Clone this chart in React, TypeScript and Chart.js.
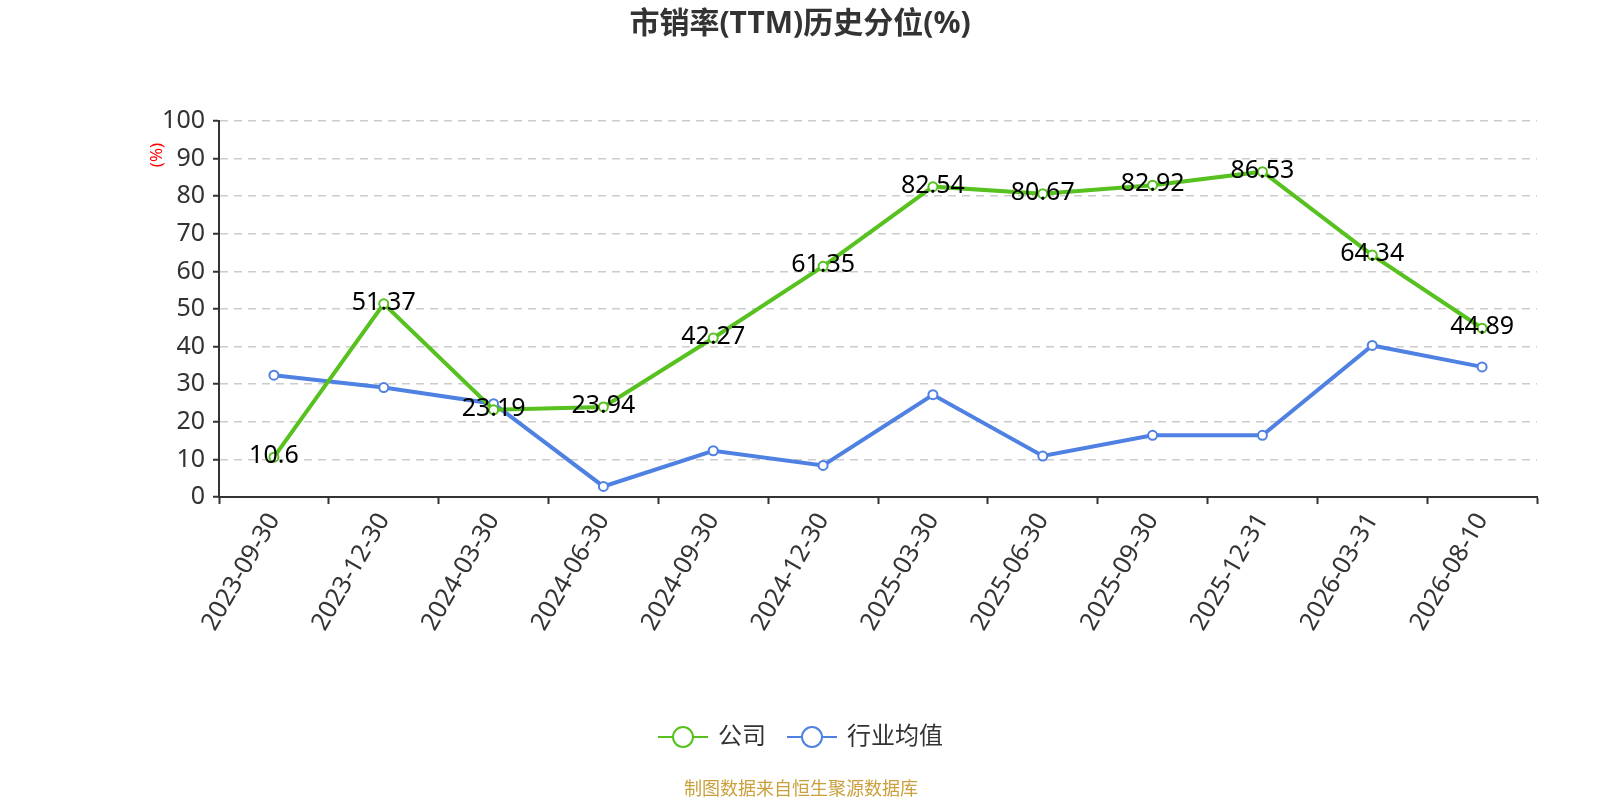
import { useEffect, useRef } from 'react'
import { Chart, registerables } from 'chart.js'

Chart.register(...registerables)

const dates = [
  '2023-09-30', '2023-12-30', '2024-03-30', '2024-06-30', '2024-09-30', '2024-12-30',
  '2025-03-30', '2025-06-30', '2025-09-30', '2025-12-31', '2026-03-31', '2026-08-10',
]
const companyValues = [10.6, 51.37, 23.19, 23.94, 42.27, 61.35, 82.54, 80.67, 82.92, 86.53, 64.34, 44.89]
const industryValues = [32.4, 29.1, 24.8, 2.8, 12.3, 8.4, 27.2, 10.9, 16.4, 16.4, 40.3, 34.6]
const legendNames = ['公司', '行业均值']

const FONT = '"Noto Sans", "Noto Sans CJK SC", sans-serif'
const GREEN = '#56c11f'
const BLUE = '#4f81e3'

// title, unit label, value labels, legend and source note
const decorPlugin = {
  id: 'decor',
  afterDatasetsDraw(chart: Chart) {
    const ctx = chart.ctx
    const meta = chart.getDatasetMeta(0)
    ctx.save()
    ctx.font = `25px ${FONT}`
    ctx.fillStyle = '#000'
    ctx.textAlign = 'center'
    ctx.textBaseline = 'middle'
    meta.data.forEach((pt, i) => {
      ctx.fillText(String(companyValues[i]), pt.x, pt.y - 1)
    })
    ctx.restore()
  },
  afterDraw(chart: Chart) {
    const ctx = chart.ctx
    ctx.save()
    ctx.fillStyle = '#333'
    ctx.font = `bold 30px ${FONT}`
    ctx.textAlign = 'center'
    ctx.textBaseline = 'middle'
    ctx.fillText('市销率(TTM)历史分位(%)', 800, 24)

    // unit
    ctx.save()
    ctx.translate(157, 155)
    ctx.rotate(-Math.PI / 2)
    ctx.fillStyle = '#ff0000'
    ctx.font = `17px ${FONT}`
    ctx.fillText('(%)', 0, 0)
    ctx.restore()

    // legend
    const items = [
      { x: 658, color: GREEN, name: legendNames[0] },
      { x: 787, color: BLUE, name: legendNames[1] },
    ]
    const ly = 737
    items.forEach((it) => {
      ctx.strokeStyle = it.color
      ctx.lineWidth = 2
      ctx.beginPath()
      ctx.moveTo(it.x, ly)
      ctx.lineTo(it.x + 50, ly)
      ctx.stroke()
      ctx.beginPath()
      ctx.arc(it.x + 25, ly, 10, 0, Math.PI * 2)
      ctx.fillStyle = '#fff'
      ctx.fill()
      ctx.stroke()
      ctx.fillStyle = '#333'
      ctx.font = `24px ${FONT}`
      ctx.textAlign = 'left'
      ctx.fillText(it.name, it.x + 60, ly)
    })

    // source note
    ctx.fillStyle = '#c9a03c'
    ctx.font = `18px ${FONT}`
    ctx.textAlign = 'center'
    ctx.fillText('制图数据来自恒生聚源数据库', 801, 790)
    ctx.restore()
  },
}

export default function App() {
  const chartRef = useRef<HTMLCanvasElement>(null)
  const chartInstance = useRef<Chart | null>(null)

  useEffect(() => {
    if (!chartRef.current) return
    if (chartInstance.current) chartInstance.current.destroy()

    chartInstance.current = new Chart(chartRef.current, {
      type: 'line',
      data: {
        labels: dates,
        datasets: [
          {
            label: legendNames[0],
            data: companyValues,
            borderColor: GREEN,
            borderWidth: 4,
            pointRadius: 4.5,
            pointBorderWidth: 2,
            pointBackgroundColor: '#fff',
            pointBorderColor: GREEN,
            tension: 0,
          },
          {
            label: legendNames[1],
            data: industryValues,
            borderColor: BLUE,
            borderWidth: 4,
            pointRadius: 4.5,
            pointBorderWidth: 2,
            pointBackgroundColor: '#fff',
            pointBorderColor: BLUE,
            tension: 0,
          },
        ],
      },
      options: {
        responsive: false,
        animation: false,
        layout: { padding: { left: 0, right: 63, top: 121, bottom: 153 } },
        plugins: {
          legend: { display: false },
          title: { display: false },
          tooltip: { enabled: false },
        },
        scales: {
          x: {
            offset: true,
            grid: {
              offset: true,
              drawOnChartArea: false,
              tickLength: 7,
              tickColor: '#333',
              tickWidth: 2,
            },
            border: { color: '#333', width: 2 },
            ticks: {
              color: '#333',
              font: { size: 25, family: FONT },
              minRotation: 60,
              maxRotation: 60,
              padding: 4,
              autoSkip: false,
            },
            afterFit: (scale: any) => {
              scale.height = 150
            },
          },
          y: {
            min: 0,
            max: 100,
            grid: {
              color: '#cccccc',
              lineWidth: 1.5,
              tickColor: '#333',
              tickLength: 6,
              tickWidth: 2,
              tickBorderDash: [],
            },
            border: { color: '#333', width: 2, dash: [8, 6] },
            ticks: {
              stepSize: 10,
              color: '#333',
              font: { size: 25, family: FONT },
              padding: 8,
            },
            afterFit: (scale: any) => {
              scale.width = 219
            },
          },
        },
      },
      plugins: [decorPlugin],
    })

    return () => {
      if (chartInstance.current) {
        chartInstance.current.destroy()
        chartInstance.current = null
      }
    }
  }, [])

  return (
    <div style={{ position: 'fixed', left: 0, top: 0, width: 1600, height: 800, background: '#fff' }}>
      <canvas ref={chartRef} width={1600} height={800} style={{ width: 1600, height: 800 }}></canvas>
    </div>
  )
}
